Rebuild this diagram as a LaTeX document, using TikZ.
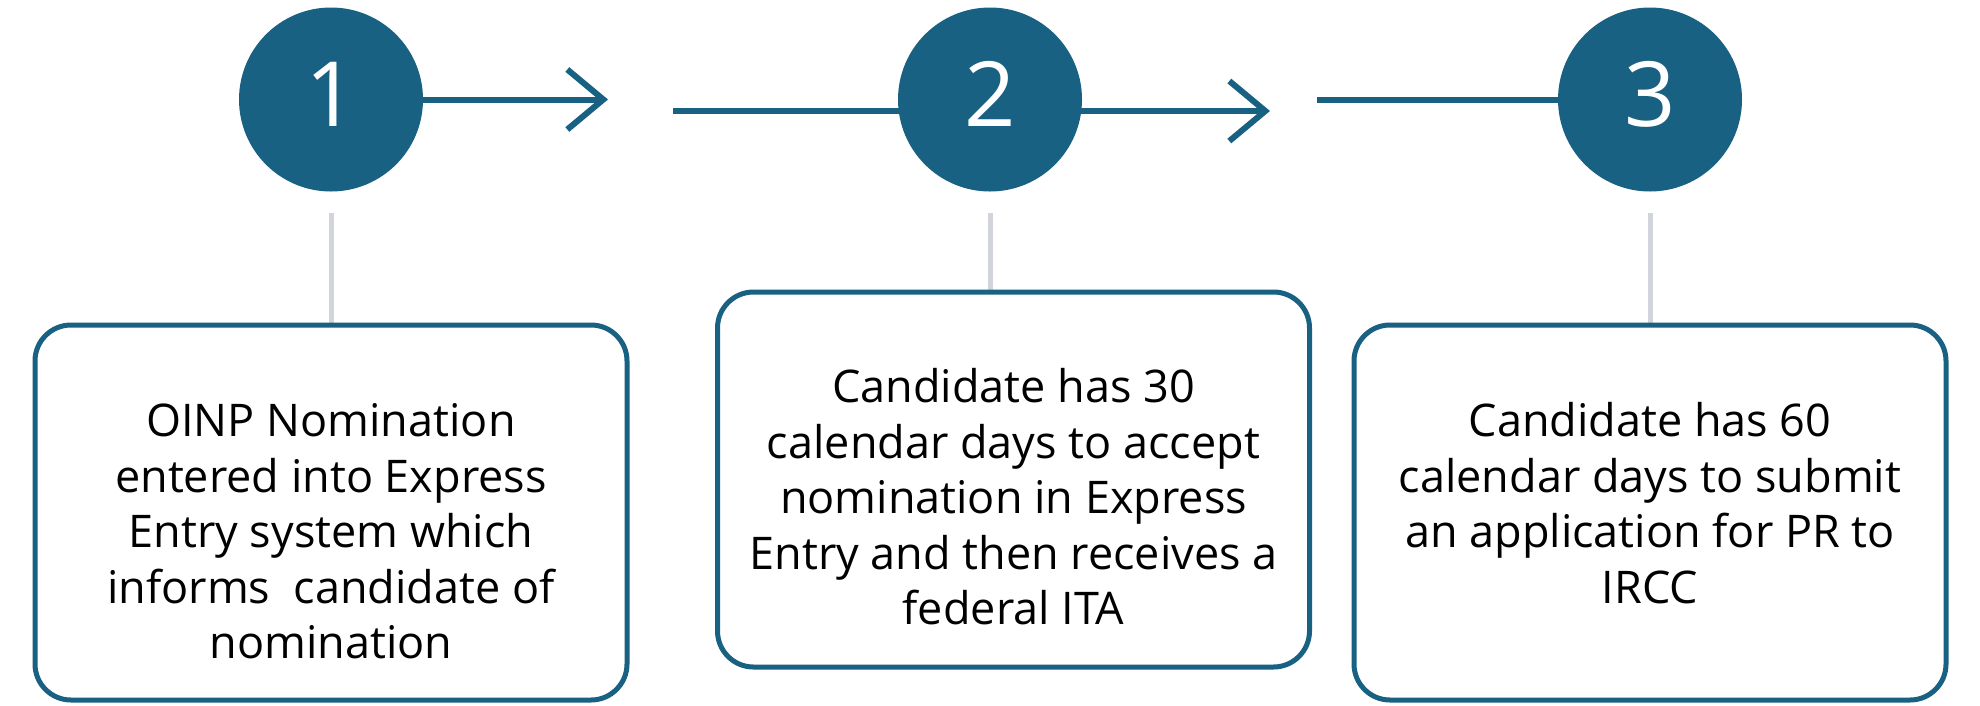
\documentclass[tikz,border=0pt]{standalone}
\usepackage{fontspec}
\setmainfont{Open Sans}
\usetikzlibrary{arrows.meta,backgrounds,calc}
\definecolor{stepblue}{RGB}{25,97,130}
\definecolor{linegray}{RGB}{209,213,219}
\begin{document}
\begin{tikzpicture}[x=1pt,y=-1pt,
  num/.style={circle, fill=stepblue, minimum size=184pt, inner sep=0pt, outer sep=0pt,
    text=white, font=\fontsize{90}{90}\selectfont, text height=65pt, text depth=12pt},
  box/.style={draw=stepblue, line width=5pt, rounded corners=36pt, minimum width=592pt,
    minimum height=375pt, inner sep=0pt, outer sep=0pt},
  txt/.style={align=center, inner sep=0pt, outer sep=0pt, anchor=north,
    font=\fontsize{45}{55.5}\selectfont},
  link/.style={draw=stepblue, line width=6pt},
  conn/.style={draw=linegray, line width=5pt},
  tipped/.style={-{Straight Barb[length=36pt,width=60pt]}}
]
\useasboundingbox (0,0) rectangle (1980,705);
% step circles
\node[num] (c1) at (331,99.5) {1};
\node[num] (c2) at (990,99.5) {2};
\node[num] (c3) at (1650,99.5) {3};
% boxes
\node[box] (b1) at (331,512.5) {};
\node[box] (b2) at (1013.5,479.5) {};
\node[box] (b3) at (1650,512.5) {};
% texts
\node[txt] (t1) at ($(b1.north)+(0,73)$) {\strut OINP Nomination\\entered into Express\\Entry system which\\informs\ \ candidate of\\nomination};
\node[txt] (t2) at ($(b2.north)+(0,72)$) {\strut Candidate has 30\\calendar days to accept\\nomination in Express\\Entry and then receives a\\federal ITA};
\node[txt] (t3) at ($(b3.north)+(0,73)$) {\strut Candidate has 60\\calendar days to submit\\an application for PR to\\IRCC};
% free ends of the timeline segments
\coordinate (a1) at (608,100);
\coordinate (a2s) at (673,111);
\coordinate (a2) at (1270,111);
\coordinate (a3s) at (1317,100);
\begin{scope}[on background layer]
  \fill[white] (0,0) rectangle (1980,705);
  \draw[link,tipped] (c1.east) -- (c1.east -| a1);
  \draw[link,tipped] (a2s) -- (a2);
  \draw[link] (a3s) -- (a3s -| c3.center);
  \draw[conn, shorten <=21.5pt] (c1.south) -- (b1.north);
  \draw[conn, shorten <=21.5pt] (c2.south) -- (c2.south |- b2.north);
  \draw[conn, shorten <=21.5pt] (c3.south) -- (b3.north);
\end{scope}
\end{tikzpicture}
\end{document}
